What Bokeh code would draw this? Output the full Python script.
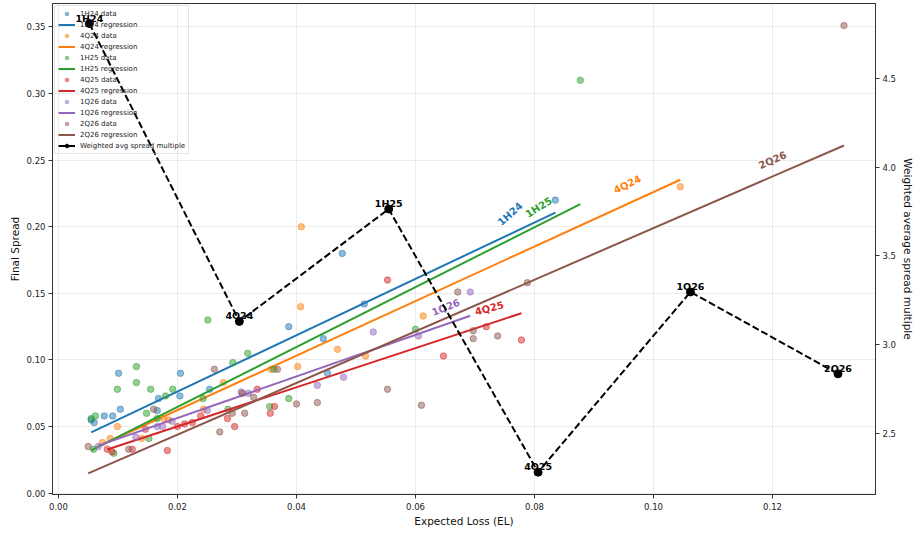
import numpy as np
from bokeh.plotting import figure
from bokeh.models import Range1d, LinearAxis, FixedTicker, PrintfTickFormatter, Legend, LegendItem
from bokeh.core.properties import value
from bokeh.embed import file_html
from bokeh.resources import INLINE

FONT = "DejaVu Sans"

series = ["1H24", "4Q24", "1H25", "4Q25", "1Q26", "2Q26"]
colors = ["#1f77b4", "#ff7f0e", "#2ca02c", "#d62728", "#9467bd", "#8c564b"]

# scatter data: expected loss (x) and final spread (y) per vintage
el_1h24 = [0.0055, 0.0060, 0.0077, 0.0091, 0.0101, 0.0104, 0.0166, 0.0168, 0.0204, 0.0205, 0.0254, 0.0387, 0.0445, 0.0452, 0.0477, 0.0514, 0.0835]
sp_1h24 = [0.055, 0.053, 0.058, 0.058, 0.090, 0.063, 0.062, 0.071, 0.073, 0.090, 0.078, 0.125, 0.116, 0.090, 0.180, 0.142, 0.220]

el_4q24 = [0.0074, 0.0087, 0.0099, 0.0140, 0.0177, 0.0185, 0.0244, 0.0277, 0.0357, 0.0402, 0.0407, 0.0408, 0.0469, 0.0516, 0.0613, 0.1045]
sp_4q24 = [0.038, 0.041, 0.050, 0.041, 0.056, 0.055, 0.063, 0.083, 0.093, 0.095, 0.140, 0.200, 0.108, 0.103, 0.133, 0.230]

el_1h25 = [0.0055, 0.0062, 0.0059, 0.0093, 0.0099, 0.0131, 0.0131, 0.0148, 0.0152, 0.0155, 0.0166, 0.0180, 0.0192, 0.0243, 0.0251, 0.0285, 0.0293, 0.0318, 0.0355, 0.0362, 0.0387, 0.0600, 0.0877]
sp_1h25 = [0.056, 0.058, 0.033, 0.030, 0.078, 0.095, 0.083, 0.060, 0.041, 0.078, 0.056, 0.073, 0.078, 0.071, 0.130, 0.063, 0.098, 0.105, 0.065, 0.093, 0.071, 0.123, 0.310]

el_4q25 = [0.0082, 0.0090, 0.0124, 0.0146, 0.0183, 0.0200, 0.0212, 0.0225, 0.0239, 0.0284, 0.0296, 0.0334, 0.0356, 0.0363, 0.0553, 0.0647, 0.0719, 0.0778]
sp_4q25 = [0.033, 0.031, 0.033, 0.048, 0.032, 0.050, 0.052, 0.053, 0.058, 0.056, 0.050, 0.078, 0.060, 0.065, 0.160, 0.103, 0.125, 0.115]

el_1q26 = [0.0067, 0.0130, 0.0166, 0.0175, 0.0191, 0.0250, 0.0307, 0.0319, 0.0435, 0.0479, 0.0529, 0.0605, 0.0692]
sp_1q26 = [0.035, 0.042, 0.050, 0.050, 0.054, 0.062, 0.076, 0.075, 0.081, 0.087, 0.121, 0.118, 0.151]

el_2q26 = [0.0050, 0.0118, 0.0160, 0.0262, 0.0271, 0.0292, 0.0309, 0.0313, 0.0328, 0.0368, 0.0400, 0.0435, 0.0553, 0.0610, 0.0671, 0.0697, 0.0697, 0.0738, 0.0788, 0.1320]
sp_2q26 = [0.035, 0.033, 0.063, 0.093, 0.046, 0.060, 0.075, 0.060, 0.072, 0.093, 0.067, 0.068, 0.078, 0.066, 0.151, 0.122, 0.116, 0.118, 0.158, 0.351]

el_data = [el_1h24, el_4q24, el_1h25, el_4q25, el_1q26, el_2q26]
sp_data = [sp_1h24, sp_4q24, sp_1h25, sp_4q25, sp_1q26, sp_2q26]

# fitted regression
reg_slope = [2.115, 2.047, 2.248, 1.47, 1.56, 1.938]
reg_intercept = [0.034, 0.0214, 0.0198, 0.0207, 0.0252, 0.0052]

# in-line labels of regression lines
label_x = [0.0759, 0.0956, 0.0807, 0.0724, 0.0651, 0.1200]
label_y = [0.2096, 0.2317, 0.2146, 0.1388, 0.1395, 0.2500]
label_angle_deg = [42, 26, 32, 15, 22, 24]

# weighted average spread multiple (right axis)
wavg_el = [0.0052, 0.0304, 0.0555, 0.0806, 0.1062, 0.1310]
wavg_mult = [4.812, 3.131, 3.765, 2.280, 3.297, 2.835]

x_ticks = [0.00, 0.02, 0.04, 0.06, 0.08, 0.10, 0.12]
y_ticks = [0.00, 0.05, 0.10, 0.15, 0.20, 0.25, 0.30, 0.35]
mult_ticks = [2.5, 3.0, 3.5, 4.0, 4.5]

p = figure(width=920, height=535, output_backend="svg", toolbar_location=None,
           x_range=Range1d(-0.001, 0.1373), y_range=Range1d(-0.001, 0.3676),
           min_border_left=52, min_border_right=45, min_border_top=3, min_border_bottom=41)
p.extra_y_ranges = {"mult": Range1d(2.154, 4.925)}

p.outline_line_color = "#333333"
p.outline_line_width = 1
p.background_fill_color = "white"

for g in (p.xgrid[0], p.ygrid[0]):
    g.grid_line_color = "#b0b0b0"
    g.grid_line_alpha = 0.3
    g.grid_line_width = 0.8

p.xaxis.ticker = FixedTicker(ticks=x_ticks)
p.yaxis.ticker = FixedTicker(ticks=y_ticks)
p.xaxis.formatter = PrintfTickFormatter(format="%.2f")
p.yaxis.formatter = PrintfTickFormatter(format="%.2f")
p.xaxis.axis_label = "Expected Loss (EL)"
p.yaxis.axis_label = "Final Spread"

right = LinearAxis(y_range_name="mult", axis_label="Weighted average spread multiple",
                   ticker=FixedTicker(ticks=mult_ticks), formatter=PrintfTickFormatter(format="%.1f"))
p.add_layout(right, "right")

for ax in p.axis:
    ax.major_label_text_font = FONT
    ax.major_label_text_font_size = "8.5px"
    ax.major_label_text_color = "#222222"
    ax.axis_label_text_font = FONT
    ax.axis_label_text_font_size = "10.5px"
    ax.axis_label_text_font_style = "normal"
    ax.axis_label_text_color = "#111111"
    ax.major_tick_in = 0
    ax.major_tick_out = 4
    ax.minor_tick_out = 0
    ax.minor_tick_in = 0
    ax.axis_line_color = "#333333"
    ax.major_tick_line_color = "#333333"
    ax.major_label_standoff = 3
    ax.axis_label_standoff = 3
p.xaxis.major_label_standoff = 4
p.xaxis.axis_label_standoff = 2

items = []
for name, col, xs, ys, m, b in zip(series, colors, el_data, sp_data, reg_slope, reg_intercept):
    sr = p.scatter(xs, ys, size=6.5, color=col, fill_alpha=0.5, line_alpha=0.5)
    x0, x1 = min(xs), max(xs)
    lr = p.line([x0, x1], [b + m * x0, b + m * x1], line_color=col, line_width=2)
    items.append(LegendItem(label=name + " data", renderers=[sr]))
    items.append(LegendItem(label=name + " regression", renderers=[lr]))

p.text(x=label_x, y=label_y, text=series, angle=[np.radians(a) for a in label_angle_deg],
       text_color=colors, text_font=value(FONT), text_font_size="10px", text_font_style="bold",
       text_align="center", text_baseline="middle")

wl = p.line(wavg_el, wavg_mult, y_range_name="mult", line_color="black", line_width=2, line_dash="7 3")
wm = p.scatter(wavg_el, wavg_mult, y_range_name="mult", size=8, color="black")
wt = p.text(x=wavg_el, y=wavg_mult, text=series, y_range_name="mult",
            text_color="black", text_font=value(FONT), text_font_size="9.5px", text_font_style="bold",
            text_align="center", text_baseline="bottom")
items.append(LegendItem(label="Weighted avg spread multiple", renderers=[wl, wm]))

legend = Legend(items=items, location="top_left", label_text_font=FONT, label_text_font_size="7px",
                label_text_color="#222222", glyph_width=17, glyph_height=9, label_height=9,
                spacing=2, padding=3, margin=2, label_standoff=5,
                border_line_color="#cccccc", border_line_width=1, background_fill_alpha=0.0)
p.add_layout(legend)

open("out.html", "w").write(file_html(p, INLINE))
